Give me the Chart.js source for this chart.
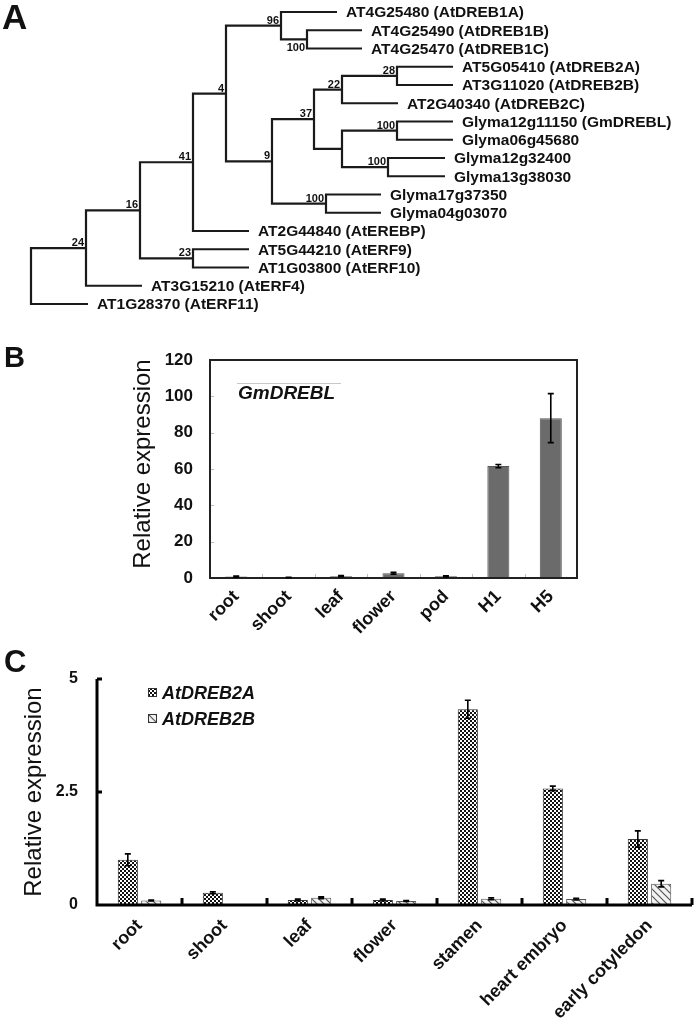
<!DOCTYPE html>
<html>
<head>
<meta charset="utf-8">
<script src="https://cdn.jsdelivr.net/npm/chart.js@4.4.0/dist/chart.umd.min.js"></script>
<style>
  body { margin: 0; background: #fff; }
  #fig { position: relative; width: 697px; height: 1035px; font-family: "Liberation Sans", Arial, sans-serif; color: #111; }
  .panel { position: absolute; left: 0; }
  .tag { position: absolute; font-weight: bold; line-height: 1; }
</style>
</head>
<body>
<div id="fig">
  <div class="panel" style="top:0"><canvas id="treeChart" width="697" height="320"></canvas></div>
  <div class="panel" style="top:320px"><canvas id="gmChart" width="697" height="330"></canvas></div>
  <div class="panel" style="top:650px"><canvas id="atChart" width="697" height="385"></canvas></div>
  <div class="tag" style="left:2px;top:-1px;font-size:35px">A</div>
  <div class="tag" style="left:4px;top:343px;font-size:29px">B</div>
  <div class="tag" style="left:4px;top:646px;font-size:31px">C</div>
</div>
<script>
// ---------- A: tree ----------
const tipNames = ['AT4G25480 (AtDREB1A)', 'AT4G25490 (AtDREB1B)', 'AT4G25470 (AtDREB1C)',
  'AT5G05410 (AtDREB2A)', 'AT3G11020 (AtDREB2B)', 'AT2G40340 (AtDREB2C)',
  'Glyma12g11150 (GmDREBL)', 'Glyma06g45680', 'Glyma12g32400', 'Glyma13g38030',
  'Glyma17g37350', 'Glyma04g03070', 'AT2G44840 (AtEREBP)', 'AT5G44210 (AtERF9)',
  'AT1G03800 (AtERF10)', 'AT3G15210 (AtERF4)', 'AT1G28370 (AtERF11)'];
// distance from root (branch length units)
const tipDepth = [3.06, 3.31, 3.31, 4.22, 4.22, 3.67, 4.22, 4.22, 4.14, 4.14, 3.50, 3.50, 2.18, 2.18, 2.18, 1.11, 0.57];
// internal nodes: children ('t' = tip, 'n' = node), depth, bootstrap
const nodeKids = [['t1','t2'], ['t0','n0'], ['t3','t4'], ['n2','t5'], ['t6','t7'], ['t8','t9'],
  ['n4','n5'], ['n3','n6'], ['t10','t11'], ['n7','n8'], ['n1','n9'], ['n10','t12'],
  ['t13','t14'], ['n11','n12'], ['n13','t15'], ['n14','t16']];
const nodeDepth = [2.76, 2.50, 3.66, 3.11, 3.66, 3.57, 3.11, 2.83, 2.95, 2.41, 1.95, 1.62, 1.62, 1.09, 0.55, 0];
const nodeSupport = [100, 96, 28, 22, 100, 100, null, 37, 100, 9, 4, 41, 23, 16, 24, null];
const supportBelow = [true];

// ---------- B: GmDREBL ----------
const tissuesB = ['root', 'shoot', 'leaf', 'flower', 'pod', 'H1', 'H5'];
const gmdreblMean = [0.8, 0.3, 1.0, 2.6, 0.9, 61.6, 88.0];
const gmdreblErr = [0.3, 0.1, 0.3, 0.5, 0.3, 0.9, 13.5];
const yTicksB = [0, 20, 40, 60, 80, 100, 120];

// ---------- C: AtDREB2A / AtDREB2B ----------
const tissuesC = ['root', 'shoot', 'leaf', 'flower', 'stamen', 'heart embryo', 'early cotyledon'];
const dreb2aMean = [1.0, 0.27, 0.11, 0.11, 4.33, 2.58, 1.46];
const dreb2aErr = [0.13, 0.02, 0.02, 0.02, 0.2, 0.05, 0.18];
const dreb2bMean = [0.1, null, 0.16, 0.09, 0.14, 0.13, 0.47];
const dreb2bErr = [0.01, 0, 0.02, 0.01, 0.02, 0.02, 0.07];
const yTicksC = [0, 2.5, 5];

const FONT = '"Liberation Sans", Arial, sans-serif';
Chart.defaults.font.family = FONT;
Chart.defaults.color = '#111';

// tree positions
const posOf = (id) => {
  const i = +id.slice(1);
  if (id[0] === 't') return { x: tipDepth[i], y: i };
  const a = posOf(nodeKids[i][0]), b = posOf(nodeKids[i][1]);
  return { x: nodeDepth[i], y: (a.y + b.y) / 2 };
};

const treeSets = nodeKids.map((kids, i) => {
  const a = posOf(kids[0]), b = posOf(kids[1]);
  return {
    data: [{x: a.x, y: a.y}, {x: nodeDepth[i], y: a.y}, {x: nodeDepth[i], y: b.y}, {x: b.x, y: b.y}],
    showLine: true, pointRadius: 0, borderColor: '#1a1a1a', borderWidth: 2.2,
    borderJoinStyle: 'miter', tension: 0
  };
});

const treeText = {
  id: 'treeText',
  afterDatasetsDraw(chart) {
    const {ctx, scales: {x, y}} = chart;
    ctx.save();
    ctx.fillStyle = '#111';
    ctx.font = 'bold 15.5px ' + FONT;
    ctx.textAlign = 'left';
    ctx.textBaseline = 'middle';
    tipNames.forEach((name, i) => {
      ctx.fillText(name, x.getPixelForValue(tipDepth[i]) + 9, y.getPixelForValue(i) + 1);
    });
    ctx.font = 'bold 11px ' + FONT;
    ctx.textAlign = 'right';
    nodeSupport.forEach((s, i) => {
      if (s == null) return;
      const p = posOf('n' + i);
      const px = x.getPixelForValue(p.x) - 2, py = y.getPixelForValue(p.y);
      if (supportBelow[i]) {
        ctx.textBaseline = 'top';
        ctx.fillText(String(s), px, py + 3);
      } else {
        ctx.textBaseline = 'alphabetic';
        ctx.fillText(String(s), px, py - 2);
      }
    });
    ctx.restore();
  }
};

new Chart(document.getElementById('treeChart'), {
  type: 'scatter',
  data: { datasets: treeSets },
  options: {
    responsive: false,
    animation: false,
    layout: { padding: 0 },
    plugins: { legend: { display: false }, tooltip: { enabled: false } },
    scales: {
      x: { type: 'linear', min: -0.31, max: 6.66, display: false },
      y: { type: 'linear', min: -0.6575, max: 16.877, reverse: true, display: false }
    }
  },
  plugins: [treeText]
});

// error bars for bar charts
const errorBars = {
  id: 'errorBars',
  afterDatasetsDraw(chart) {
    const {ctx, scales: {y}} = chart;
    chart.data.datasets.forEach((ds, di) => {
      if (!ds.errors) return;
      chart.getDatasetMeta(di).data.forEach((bar, i) => {
        const v = ds.data[i], e = ds.errors[i];
        if (v == null || !e) return;
        const top = y.getPixelForValue(v + e), bot = y.getPixelForValue(Math.max(v - e, 0));
        ctx.save();
        ctx.strokeStyle = '#000';
        ctx.lineWidth = 1.6;
        ctx.beginPath();
        ctx.moveTo(bar.x, top); ctx.lineTo(bar.x, bot);
        ctx.moveTo(bar.x - 3, top); ctx.lineTo(bar.x + 3, top);
        ctx.moveTo(bar.x - 3, bot); ctx.lineTo(bar.x + 3, bot);
        ctx.stroke();
        ctx.restore();
      });
    });
  }
};

// rotated y title drawn at given canvas position
const yTitle = (text, cx, cy, size) => ({
  id: 'yTitle',
  afterDraw(chart) {
    const ctx = chart.ctx;
    ctx.save();
    ctx.translate(cx, cy);
    ctx.rotate(-Math.PI / 2);
    ctx.font = size + 'px ' + FONT;
    ctx.fillStyle = '#111';
    ctx.textAlign = 'center';
    ctx.textBaseline = 'middle';
    ctx.fillText(text, 0, 0);
    ctx.restore();
  }
});

// ---------- chart B ----------
const frameB = {
  id: 'frameB',
  afterDatasetsDraw(chart) {
    const {ctx, chartArea: a, scales: {x, y}} = chart;
    ctx.save();
    // small inner ticks
    ctx.strokeStyle = '#bbb';
    ctx.lineWidth = 1;
    ctx.beginPath();
    yTicksB.forEach(v => {
      const py = Math.round(y.getPixelForValue(v)) + 0.5;
      ctx.moveTo(a.left, py); ctx.lineTo(a.left + 4, py);
    });
    for (let i = 1; i < tissuesB.length; i++) {
      const px = Math.round(x.getPixelForValue(i - 0.5)) + 0.5;
      ctx.moveTo(px, a.bottom); ctx.lineTo(px, a.bottom - 4);
    }
    ctx.stroke();
    // frame
    ctx.strokeStyle = '#222';
    ctx.lineWidth = 2;
    ctx.strokeRect(a.left, a.top, a.right - a.left, a.bottom - a.top);
    // gene label
    ctx.strokeStyle = '#c8c8c8';
    ctx.lineWidth = 1;
    ctx.beginPath();
    ctx.moveTo(a.left + 27, a.top + 23.5); ctx.lineTo(a.left + 131, a.top + 23.5);
    ctx.stroke();
    ctx.fillStyle = '#111';
    ctx.font = 'italic bold 19px ' + FONT;
    ctx.textBaseline = 'alphabetic';
    ctx.fillText('GmDREBL', a.left + 28, a.top + 39);
    ctx.restore();
  }
};

new Chart(document.getElementById('gmChart'), {
  type: 'bar',
  data: {
    labels: tissuesB,
    datasets: [{
      data: gmdreblMean,
      errors: gmdreblErr,
      backgroundColor: '#6b6b6b',
      borderColor: '#555',
      borderWidth: 1,
      categoryPercentage: 1,
      barPercentage: 0.42
    }]
  },
  options: {
    responsive: false,
    animation: false,
    layout: { padding: { top: 40, right: 120, left: 0, bottom: 0 } },
    plugins: { legend: { display: false }, tooltip: { enabled: false } },
    scales: {
      x: {
        grid: { display: false, drawTicks: false },
        border: { display: false },
        afterFit: (s) => { s.height = 72; },
        ticks: {
          autoSkip: false, maxRotation: 45, minRotation: 45, padding: 8,
          font: { size: 18, weight: 'bold' }, color: '#111'
        }
      },
      y: {
        min: yTicksB[0], max: yTicksB[yTicksB.length - 1],
        grid: { display: false, drawTicks: false },
        border: { display: false },
        afterFit: (s) => { s.width = 210; },
        afterBuildTicks: (s) => { s.ticks = yTicksB.map(v => ({ value: v })); },
        ticks: { padding: 17, font: { size: 17, weight: 'bold' }, color: '#111' }
      }
    }
  },
  plugins: [frameB, errorBars, yTitle('Relative expression', 143, 144, 24)]
});

// ---------- chart C ----------
const makePattern = (kind) => {
  const c = document.createElement('canvas');
  const g = c.getContext('2d');
  if (kind === 'checker') {
    c.width = 4; c.height = 4;
    g.fillStyle = '#fff'; g.fillRect(0, 0, 4, 4);
    g.fillStyle = '#111'; g.fillRect(0, 0, 2, 2); g.fillRect(2, 2, 2, 2);
  } else {
    c.width = 7; c.height = 7;
    g.fillStyle = '#f2f2f2'; g.fillRect(0, 0, 7, 7);
    g.strokeStyle = '#555'; g.lineWidth = 1.2;
    g.beginPath();
    g.moveTo(-1, -1); g.lineTo(8, 8);
    g.moveTo(-1, 6); g.lineTo(1, 8);
    g.moveTo(6, -1); g.lineTo(8, 1);
    g.stroke();
  }
  return g.createPattern(c, 'repeat');
};
const checker = makePattern('checker');
const hatch = makePattern('hatch');

const axesC = {
  id: 'axesC',
  afterDatasetsDraw(chart) {
    const {ctx, chartArea: a, scales: {x, y}} = chart;
    ctx.save();
    ctx.strokeStyle = '#000';
    ctx.lineWidth = 3;
    ctx.beginPath();
    ctx.moveTo(a.left, a.top); ctx.lineTo(a.left, a.bottom); ctx.lineTo(a.right, a.bottom);
    yTicksC.forEach(v => {
      const py = y.getPixelForValue(v);
      ctx.moveTo(a.left, py); ctx.lineTo(a.left + 5, py);
    });
    for (let i = 1; i <= tissuesC.length; i++) {
      const px = x.getPixelForValue(i - 0.5);
      ctx.moveTo(px, a.bottom); ctx.lineTo(px, a.bottom - 7);
    }
    ctx.stroke();
    // legend
    const names = chart.data.datasets.map(d => d.label);
    ctx.font = 'italic bold 18px ' + FONT;
    ctx.textBaseline = 'middle';
    names.forEach((n, i) => {
      const cy = 43 + i * 26;
      ctx.fillStyle = chart.data.datasets[i].backgroundColor;
      ctx.fillRect(a.left + 51, cy - 5, 9, 9);
      ctx.lineWidth = 1;
      ctx.strokeStyle = '#333';
      ctx.strokeRect(a.left + 51.5, cy - 4.5, 8, 8);
      ctx.fillStyle = '#111';
      ctx.fillText(n, a.left + 65, cy + 1);
    });
    ctx.restore();
  }
};

new Chart(document.getElementById('atChart'), {
  type: 'bar',
  data: {
    labels: tissuesC,
    datasets: [
      { label: 'AtDREB2A', data: dreb2aMean, errors: dreb2aErr, backgroundColor: checker,
        borderColor: '#333', borderWidth: 1, categoryPercentage: 0.55, barPercentage: 0.86 },
      { label: 'AtDREB2B', data: dreb2bMean, errors: dreb2bErr, backgroundColor: hatch,
        borderColor: '#555', borderWidth: 1, categoryPercentage: 0.55, barPercentage: 0.86 }
    ]
  },
  options: {
    responsive: false,
    animation: false,
    layout: { padding: { top: 29, right: 5, left: 0, bottom: 0 } },
    plugins: { legend: { display: false }, tooltip: { enabled: false } },
    scales: {
      x: {
        grid: { display: false, drawTicks: false },
        border: { display: false },
        afterFit: (s) => { s.height = 130; },
        ticks: {
          autoSkip: false, maxRotation: 45, minRotation: 45, padding: 10,
          font: { size: 18, weight: 'bold' }, color: '#111'
        }
      },
      y: {
        min: yTicksC[0], max: yTicksC[yTicksC.length - 1],
        grid: { display: false, drawTicks: false },
        border: { display: false },
        afterFit: (s) => { s.width = 97; },
        afterBuildTicks: (s) => { s.ticks = yTicksC.map(v => ({ value: v })); },
        ticks: { padding: 19, font: { size: 16, weight: 'bold' }, color: '#111' }
      }
    }
  },
  plugins: [axesC, errorBars, yTitle('Relative expression', 34, 142, 24)]
});
</script>
</body>
</html>
